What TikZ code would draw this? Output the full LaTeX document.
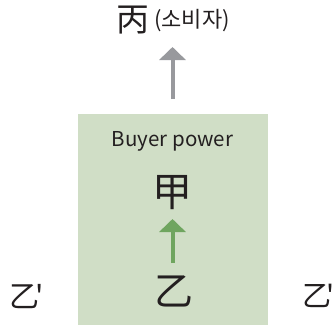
\documentclass[tikz,border=0pt]{standalone}
\usepackage{fontspec}
\setmainfont{Noto Sans CJK KR}[Ligatures=TeXOff]
\usetikzlibrary{arrows.meta}
\definecolor{boxgreen}{RGB}{208,222,198}
\definecolor{arrgreen}{RGB}{111,165,95}
\definecolor{arrgray}{RGB}{152,153,157}
\definecolor{ink}{RGB}{35,31,32}
\tikzset{
  lbl/.style={inner sep=0pt, text=ink},
  uparrow/.style={line width=4pt, -{Triangle[width=26pt,length=13pt]}},
}
\begin{document}
\begin{tikzpicture}[x=1pt,y=-1pt]
\useasboundingbox (0,0) rectangle (335,325);
\fill[boxgreen] (78,114) rectangle (268,325);
\node[lbl] (box) at (173,219.5) {};
\node[lbl] (bing) at (132.5,20) {\fontsize{33}{33}\selectfont 丙};
\node[lbl] (cons) at (192,21) {\fontsize{22}{22}\selectfont (소비자)};
\node[lbl] (bp) at (172.5,141) {\fontsize{20.5}{20.5}\selectfont Buyer power};
\node[lbl] (jia) at (172.5,192.5) {\fontsize{40}{40}\selectfont 甲};
\node[lbl] (yi) at (173.5,291) {\fontsize{39}{39}\selectfont 乙};
\node[lbl, anchor=west] (yl) at (9,297) {\fontsize{30}{30}\selectfont 乙\kern-4pt'};
\node[lbl, anchor=west] (yr) at (302,296) {\fontsize{29}{29}\selectfont 乙\kern-5pt'};
\coordinate (gs) at (172.5,99);
\coordinate (ge) at (172.5,47);
\coordinate (vs) at (172.5,263);
\coordinate (ve) at (172.5,219);
\draw[uparrow, arrgray] (gs) -- (ge);
\draw[uparrow, arrgreen] (vs) -- (ve);
\end{tikzpicture}
\end{document}
